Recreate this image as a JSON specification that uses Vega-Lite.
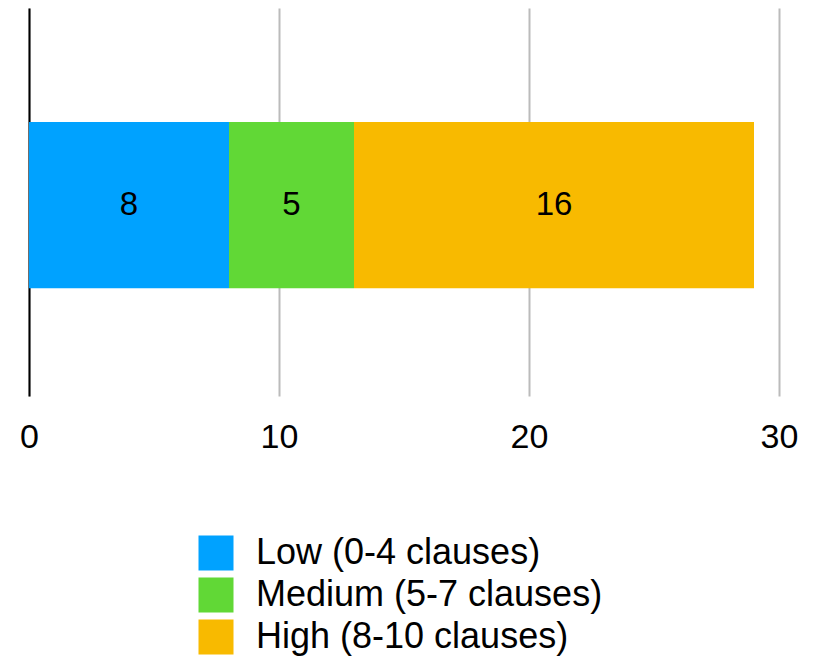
{
  "$schema": "https://vega.github.io/schema/vega-lite/v6.json",
  "width": 750,
  "height": 388,
  "autosize": "none",
  "padding": {"left": 29, "top": 8, "right": 34, "bottom": 260},
  "background": "white",
  "config": {"view": {"stroke": null}, "font": "Liberation Sans"},
  "data": {"values": [
    {"cat": "Row", "level": "Low (0-4 clauses)", "order": 1, "count": 8},
    {"cat": "Row", "level": "Medium (5-7 clauses)", "order": 2, "count": 5},
    {"cat": "Row", "level": "High (8-10 clauses)", "order": 3, "count": 16}
  ]},
  "encoding": {
    "y": {"field": "cat", "type": "nominal", "scale": {"paddingInner": 0.4, "paddingOuter": 0.4, "align": 0.514},
      "axis": {"title": null, "labels": false, "ticks": false, "domain": true, "domainColor": "#000000", "domainWidth": 2}},
    "x": {"field": "count", "type": "quantitative", "stack": "zero",
      "scale": {"domain": [0, 30], "nice": false},
      "axis": {"title": null, "values": [0, 10, 20, 30], "grid": true, "gridColor": "#bbbbbb", "gridWidth": 2, "domain": false, "ticks": false,
        "labelFlush": false, "labelFontSize": 34, "labelColor": "#000000", "labelPadding": 24, "labelFont": "Liberation Sans"}},
    "order": {"field": "order", "type": "quantitative"}
  },
  "layer": [
    {"mark": {"type": "bar"},
     "encoding": {
       "color": {"field": "level", "type": "nominal",
         "scale": {"domain": ["Low (0-4 clauses)", "Medium (5-7 clauses)", "High (8-10 clauses)"], "range": ["#00A2FF", "#61D836", "#F8BA00"]},
         "legend": {"title": null, "orient": "none", "legendX": 169, "legendY": 527, "direction": "vertical",
           "symbolType": "square", "symbolSize": 1225, "symbolStrokeWidth": 0, "symbolOpacity": 1,
           "labelFontSize": 36, "labelColor": "#000000", "labelOffset": 22, "rowPadding": 6, "padding": 0, "labelLimit": 0, "labelFont": "Liberation Sans"}}
     }},
    {"mark": {"type": "text", "fontSize": 33, "color": "#000000", "font": "Liberation Sans", "baseline": "middle"},
     "encoding": {
       "x": {"field": "count", "type": "quantitative", "stack": "zero", "bandPosition": 0.5},
       "text": {"field": "count", "type": "quantitative"}
     }}
  ]
}
